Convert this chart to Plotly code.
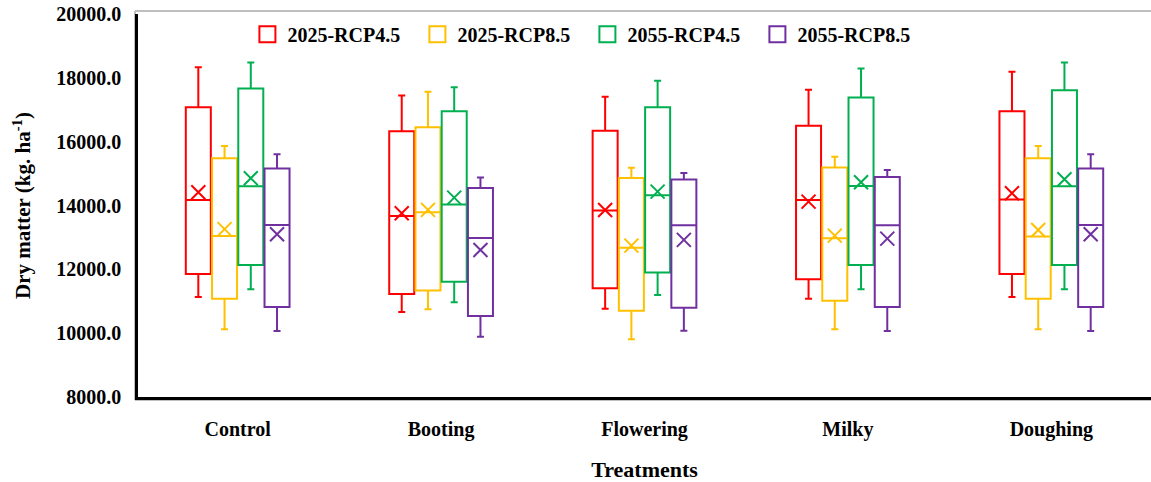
import plotly.graph_objects as go

categories = ["Control", "Booting", "Flowering", "Milky", "Doughing"]
series_names = ["2025-RCP4.5", "2025-RCP8.5", "2055-RCP4.5", "2055-RCP8.5"]
colors = ["#FF0000", "#FFC000", "#00B050", "#7030A0"]

# 2025-RCP4.5
r45_25_upper = [18335, 17445, 17404, 17624, 18188]
r45_25_q3 = [17081, 16329, 16339, 16495, 16955]
r45_25_median = [14175, 13674, 13840, 14175, 14185]
r45_25_mean = [14417, 13758, 13860, 14122, 14384]
r45_25_q1 = [11856, 11229, 11408, 11690, 11856]
r45_25_lower = [11135, 10665, 10768, 11082, 11135]

# 2025-RCP8.5
r85_25_upper = [15868, 17561, 15179, 15524, 15868]
r85_25_q3 = [15483, 16454, 14865, 15188, 15483]
r85_25_median = [13047, 13789, 12680, 12972, 13025]
r85_25_mean = [13260, 13862, 12743, 13057, 13235]
r85_25_q1 = [11082, 11333, 10706, 11019, 11082]
r85_25_lower = [10122, 10749, 9809, 10122, 10122]

# 2055-RCP4.5
r45_55_upper = [18480, 17707, 17906, 18293, 18480]
r45_55_q3 = [17665, 16955, 17081, 17383, 17613]
r45_55_median = [14605, 14028, 14320, 14614, 14605]
r45_55_mean = [14855, 14247, 14435, 14730, 14825]
r45_55_q1 = [12138, 11614, 11897, 12138, 12138]
r45_55_lower = [11373, 10968, 11197, 11373, 11373]

# 2055-RCP8.5
r85_55_upper = [15605, 14875, 15022, 15115, 15605]
r85_55_q3 = [15157, 14552, 14813, 14896, 15157]
r85_55_median = [13392, 12984, 13380, 13380, 13392]
r85_55_mean = [13100, 12608, 12922, 12962, 13100]
r85_55_q1 = [10821, 10539, 10800, 10821, 10821]
r85_55_lower = [10069, 9890, 10078, 10069, 10069]

y_tick_vals = [8000, 10000, 12000, 14000, 16000, 18000, 20000]

stats = [
    (r45_25_lower, r45_25_q1, r45_25_median, r45_25_q3, r45_25_upper, r45_25_mean),
    (r85_25_lower, r85_25_q1, r85_25_median, r85_25_q3, r85_25_upper, r85_25_mean),
    (r45_55_lower, r45_55_q1, r45_55_median, r45_55_q3, r45_55_upper, r45_55_mean),
    (r85_55_lower, r85_55_q1, r85_55_median, r85_55_q3, r85_55_upper, r85_55_mean),
]

FONT = "Times New Roman, Liberation Serif, serif"
step = 0.129
bw = 0.123

fig = go.Figure()
for j, (name, c, st) in enumerate(zip(series_names, colors, stats)):
    lo, q1, med, q3, up, mn = st
    xs = [i + (j - 1.5) * step for i in range(len(categories))]
    fig.add_trace(go.Box(
        x=xs, q1=q1, median=med, q3=q3, lowerfence=lo, upperfence=up,
        width=bw, whiskerwidth=0.28, boxpoints=False,
        line=dict(color=c, width=2), fillcolor="rgba(0,0,0,0)",
        name=name, showlegend=False,
    ))
    fig.add_trace(go.Scatter(
        x=xs, y=mn, mode="markers", name=name, showlegend=False,
        marker=dict(symbol="x-thin", size=14, color=c, line=dict(width=2, color=c)),
    ))
    fig.add_trace(go.Scatter(
        x=[None], y=[None], mode="markers", name=name, showlegend=True,
        marker=dict(symbol="square-open", size=16, color=c, line=dict(width=2, color=c)),
    ))

fig.update_layout(
    width=1151, height=482,
    margin=dict(l=138, r=0, t=14, b=85),
    paper_bgcolor="white", plot_bgcolor="white",
    font=dict(family=FONT, size=20, color="black", weight="bold"),
    showlegend=True,
    legend=dict(orientation="h", x=0.108, y=0.947, xanchor="left", yanchor="middle",
                font=dict(family=FONT, size=20, color="black", weight="bold"),
                bgcolor="rgba(0,0,0,0)", entrywidth=125, entrywidthmode="pixels"),
    xaxis=dict(
        range=[-0.49, 4.49], tickvals=list(range(len(categories))), ticktext=categories,
        showgrid=False, zeroline=False, showline=True, linecolor="black", linewidth=2.5,
        ticks="", ticklabelstandoff=12,
        tickfont=dict(family=FONT, size=20, color="black", weight="bold"),
        title=dict(text="Treatments", standoff=24,
                   font=dict(family=FONT, size=22, color="black", weight="bold")),
    ),
    yaxis=dict(
        range=[8000, 20000], tickvals=y_tick_vals, tickformat=".1f",
        showgrid=False, zeroline=False, showline=True, linecolor="black", linewidth=2.5,
        ticks="", ticklabelstandoff=10,
        tickfont=dict(family=FONT, size=20, color="black", weight="bold"),
        title=dict(text="Dry matter (kg. ha<sup>-1</sup>)", standoff=20,
                   font=dict(family=FONT, size=21, color="black", weight="bold")),
    ),
    shapes=[
        dict(type="line", xref="paper", yref="paper", x0=-0.003, x1=1, y0=1.008, y1=1.008,
             line=dict(color="#BFBFBF", width=2)),
        dict(type="line", xref="paper", yref="paper", x0=-0.003, x1=-0.003, y0=-0.008, y1=1.008,
             line=dict(color="#BFBFBF", width=2), layer="below"),
        dict(type="line", xref="paper", yref="paper", x0=-0.003, x1=1, y0=-0.008, y1=-0.008,
             line=dict(color="#BFBFBF", width=2), layer="below"),
    ],
)

fig.write_html(
    "out.html",
    config={"displayModeBar": False},
    post_script="document.body.style.margin='0';document.body.style.overflow='hidden';",
)
